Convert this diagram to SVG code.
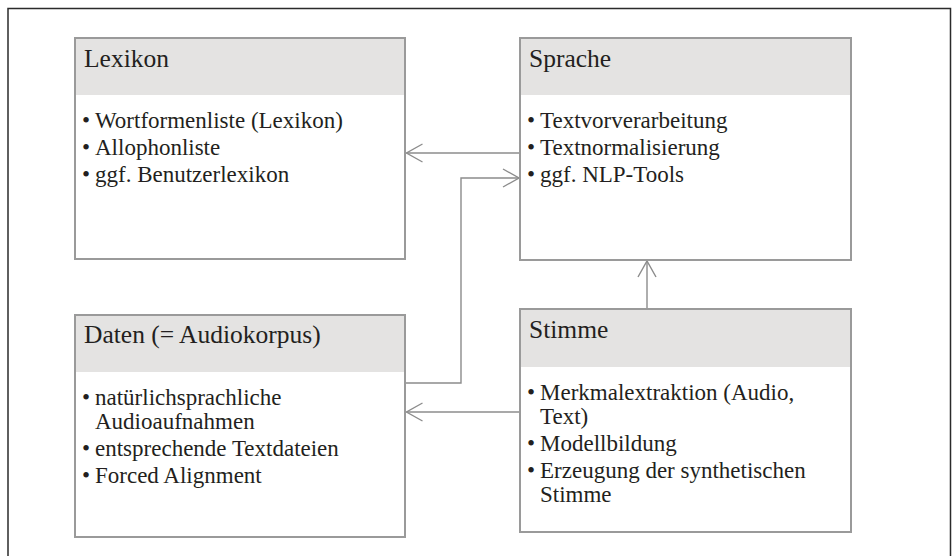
<svg xmlns="http://www.w3.org/2000/svg" width="952" height="556" viewBox="0 0 952 556">
<defs>
<style>
.box{fill:#fff;stroke:#9a9a9a;stroke-width:2}
.hdr{fill:#e4e3e2}
.t{font-family:"Liberation Serif","Times New Roman",serif;fill:#231f20}
.title{font-size:25.5px}
.body{font-size:23px}
.con{fill:none;stroke:#8c8c8c;stroke-width:1.4}
</style>
<marker id="arr" viewBox="-18 -11 20 22" refX="0" refY="0" markerWidth="20" markerHeight="22" markerUnits="userSpaceOnUse" orient="auto">
<path d="M-16,-9 L0,0 L-16,9" fill="none" stroke="#8c8c8c" stroke-width="1.4"/>
</marker>
</defs>
<rect x="0" y="0" width="952" height="556" fill="#fff"/>
<path d="M8,560 V8.5 H950.5 V560" fill="none" stroke="#2b2b2b" stroke-width="1.5"/>

<g id="connectors">
<path class="con" d="M520,153 H406.5" marker-end="url(#arr)"/>
<path class="con" d="M405,383 H461 V178 H519" marker-end="url(#arr)"/>
<path class="con" d="M520,412 H406.5" marker-end="url(#arr)"/>
<path class="con" d="M647,309 V261" marker-end="url(#arr)"/>
</g>

<g id="lexikon">
<rect class="box" x="75" y="38" width="330" height="221"/>
<rect class="hdr" x="76" y="39" width="328" height="56"/>
<text class="t title" x="84" y="67">Lexikon</text>
<g class="t body">
<text x="82" y="128">•</text><text x="95" y="128">Wortformenliste (Lexikon)</text>
<text x="82" y="155">•</text><text x="95" y="155">Allophonliste</text>
<text x="82" y="182">•</text><text x="95" y="182">ggf. Benutzerlexikon</text>
</g>
</g>

<g id="sprache">
<rect class="box" x="520" y="38" width="331" height="222"/>
<rect class="hdr" x="521" y="39" width="329" height="56"/>
<text class="t title" x="529" y="67">Sprache</text>
<g class="t body">
<text x="527" y="128">•</text><text x="540" y="128">Textvorverarbeitung</text>
<text x="527" y="155">•</text><text x="540" y="155">Textnormalisierung</text>
<text x="527" y="182">•</text><text x="540" y="182">ggf. NLP-Tools</text>
</g>
</g>

<g id="daten">
<rect class="box" x="75" y="315" width="330" height="222"/>
<rect class="hdr" x="76" y="316" width="328" height="56"/>
<text class="t title" x="84" y="343">Daten (= Audiokorpus)</text>
<g class="t body">
<text x="82" y="405">•</text><text x="95" y="405">natürlichsprachliche</text>
<text x="95" y="429">Audioaufnahmen</text>
<text x="82" y="456">•</text><text x="95" y="456">entsprechende Textdateien</text>
<text x="82" y="483">•</text><text x="95" y="483">Forced Alignment</text>
</g>
</g>

<g id="stimme">
<rect class="box" x="520" y="309" width="331" height="223"/>
<rect class="hdr" x="521" y="310" width="329" height="57"/>
<text class="t title" x="529" y="338">Stimme</text>
<g class="t body">
<text x="527" y="400">•</text><text x="540" y="400">Merkmalextraktion (Audio,</text>
<text x="540" y="424">Text)</text>
<text x="527" y="451">•</text><text x="540" y="451">Modellbildung</text>
<text x="527" y="478">•</text><text x="540" y="478">Erzeugung der synthetischen</text>
<text x="540" y="502">Stimme</text>
</g>
</g>
</svg>
